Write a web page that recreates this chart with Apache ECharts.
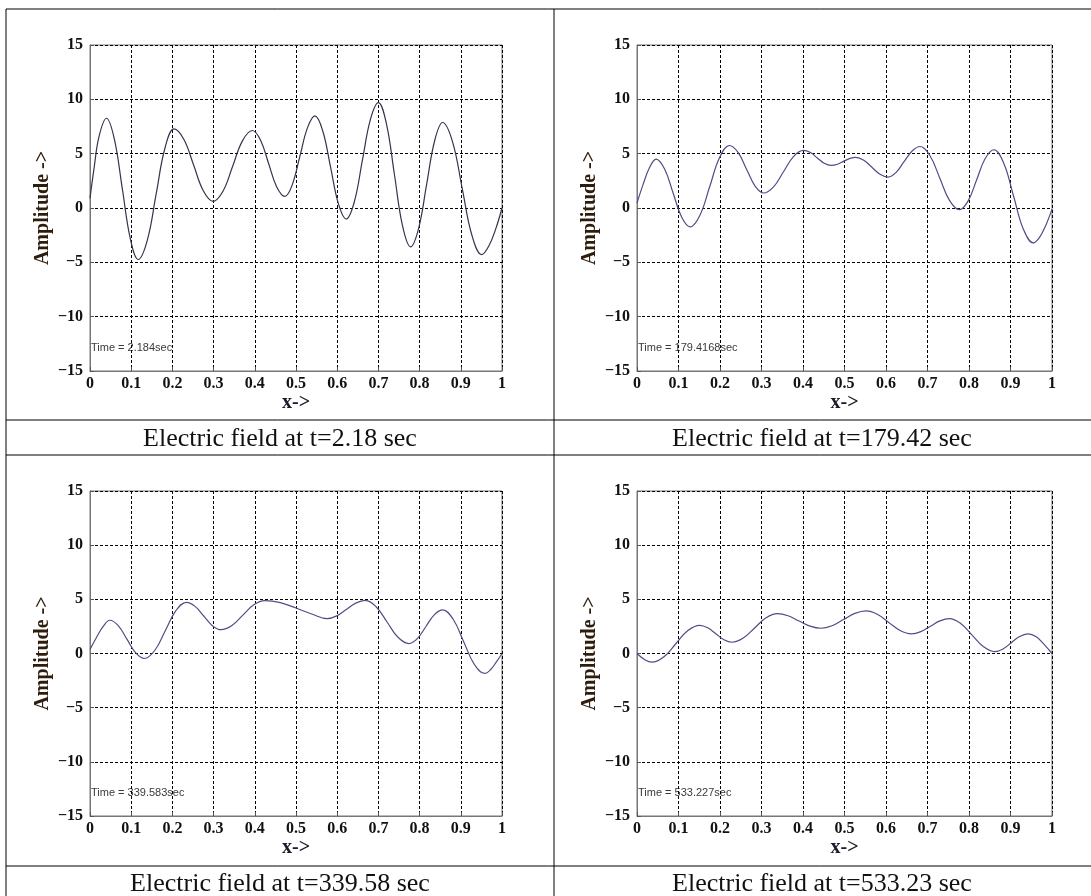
<!DOCTYPE html>
<html>
<head>
<meta charset="utf-8">
<script src="https://cdn.jsdelivr.net/npm/echarts@6/dist/echarts.min.js"></script>
<style>
html,body{margin:0;padding:0;background:#fff;}
#chart{width:1091px;height:896px;}
</style>
</head>
<body>
<div id="chart"></div>
<script>
// ---- Data ----
const xTicks = [0, 0.1, 0.2, 0.3, 0.4, 0.5, 0.6, 0.7, 0.8, 0.9, 1];
const yTicks = [-15, -10, -5, 0, 5, 10, 15];

const captions = [
  'Electric field at t=2.18 sec',
  'Electric field at t=179.42 sec',
  'Electric field at t=339.58 sec',
  'Electric field at t=533.23 sec'
];
const timeLabels = ['Time = 2.184sec', 'Time = 179.4168sec', 'Time = 339.583sec', 'Time = 533.227sec'];

const x1 = [0, 0.010, 0.022, 0.040, 0.059, 0.0785, 0.098, 0.117, 0.139, 0.1605, 0.182, 0.204, 0.228, 0.2515, 0.275, 0.299, 0.323, 0.3465, 0.370, 0.394, 0.414, 0.4335, 0.453, 0.473, 0.491, 0.5095, 0.528, 0.546, 0.565, 0.584, 0.603, 0.622, 0.6415, 0.661, 0.6805, 0.700, 0.7195, 0.739, 0.7585, 0.778, 0.7975, 0.817, 0.8365, 0.856, 0.880, 0.9035, 0.927, 0.951, 0.968, 0.985, 1];
const y1 = [0.9, 3.7, 6.6, 8.26, 6.36, 1.76, -2.84, -4.74, -2.98, 1.27, 5.52, 7.28, 6.30, 3.95, 1.59, 0.61, 1.56, 3.87, 6.18, 7.13, 6.24, 4.1, 1.96, 1.07, 2.15, 4.78, 7.40, 8.48, 7.09, 3.74, 0.38, -1.01, 0.56, 4.35, 8.13, 9.7, 7.75, 3.06, -1.63, -3.58, -1.90, 2.15, 6.19, 7.87, 6.09, 1.79, -2.51, -4.29, -3.5, -1.9, 0];

const x2 = [0, 0.015, 0.030, 0.046, 0.0665, 0.087, 0.1075, 0.128, 0.152, 0.1755, 0.199, 0.223, 0.2435, 0.264, 0.2845, 0.305, 0.329, 0.353, 0.377, 0.401, 0.418, 0.4345, 0.451, 0.468, 0.483, 0.4975, 0.512, 0.527, 0.5465, 0.566, 0.5855, 0.605, 0.624, 0.6435, 0.663, 0.682, 0.706, 0.7295, 0.753, 0.777, 0.798, 0.8185, 0.839, 0.860, 0.884, 0.9075, 0.931, 0.955, 0.970, 0.985, 1];
const y2 = [0.46, 2.2, 3.7, 4.5, 3.59, 1.38, -0.83, -1.74, -0.64, 2.0, 4.65, 5.75, 5.11, 3.57, 2.02, 1.38, 1.95, 3.34, 4.73, 5.3, 5.10, 4.61, 4.12, 3.92, 4.03, 4.29, 4.54, 4.65, 4.39, 3.75, 3.11, 2.85, 3.26, 4.26, 5.25, 5.66, 4.81, 2.76, 0.70, -0.15, 0.66, 2.6, 4.55, 5.36, 4.10, 1.08, -1.95, -3.21, -2.7, -1.6, -0.1];

const x3 = [0, 0.016, 0.032, 0.048, 0.069, 0.090, 0.111, 0.132, 0.1575, 0.183, 0.2085, 0.234, 0.255, 0.276, 0.297, 0.318, 0.3445, 0.371, 0.3975, 0.424, 0.462, 0.500, 0.538, 0.576, 0.599, 0.622, 0.645, 0.668, 0.6945, 0.721, 0.7475, 0.774, 0.7945, 0.815, 0.8355, 0.856, 0.8815, 0.907, 0.9325, 0.958, 0.972, 0.986, 1];
const y3 = [0.37, 1.5, 2.5, 3.07, 2.55, 1.3, 0.06, -0.46, 0.30, 2.13, 3.96, 4.72, 4.35, 3.46, 2.57, 2.2, 2.59, 3.54, 4.49, 4.88, 4.7, 4.2, 3.65, 3.22, 3.47, 4.06, 4.65, 4.9, 4.32, 2.91, 1.50, 0.92, 1.37, 2.47, 3.57, 4.02, 3.16, 1.09, -0.98, -1.84, -1.5, -0.8, 0];

const x4 = [0, 0.018, 0.036, 0.065, 0.0935, 0.122, 0.151, 0.1705, 0.190, 0.2095, 0.229, 0.256, 0.2835, 0.311, 0.338, 0.364, 0.3905, 0.417, 0.443, 0.470, 0.4975, 0.525, 0.552, 0.579, 0.6065, 0.634, 0.661, 0.684, 0.707, 0.730, 0.753, 0.780, 0.8075, 0.835, 0.862, 0.882, 0.902, 0.922, 0.942, 0.962, 0.981, 1];
const y4 = [0, -0.55, -0.8, -0.30, 0.9, 2.10, 2.6, 2.37, 1.82, 1.27, 1.04, 1.43, 2.36, 3.29, 3.68, 3.48, 3.0, 2.53, 2.33, 2.56, 3.13, 3.70, 3.93, 3.62, 2.87, 2.12, 1.81, 2.02, 2.52, 3.01, 3.22, 2.77, 1.7, 0.63, 0.18, 0.42, 1.0, 1.57, 1.81, 1.55, 0.85, 0];

const seriesX = [x1, x2, x3, x4];
const seriesY = [y1, y2, y3, y4];
const lineColors = ['#34344e', '#4e4e86', '#4e4e86', '#4e4e86'];

// ---- Layout ----
const grids = [
  {left: 90, top: 45, width: 412, height: 326},
  {left: 637, top: 45, width: 415, height: 326},
  {left: 90, top: 491, width: 412, height: 325},
  {left: 637, top: 491, width: 415, height: 325}
];
const serif = "'Liberation Serif', 'DejaVu Serif', serif";

const chart = echarts.init(document.getElementById('chart'), null, {renderer: 'canvas'});

const xAxes = [], yAxes = [], series = [], graphics = [];
grids.forEach((g, i) => {
  xAxes.push({
    type: 'value', gridIndex: i, min: xTicks[0], max: xTicks[xTicks.length - 1], interval: 0.1,
    name: 'x->', nameLocation: 'middle', nameGap: 22,
    nameTextStyle: {fontFamily: serif, fontWeight: 'bold', fontSize: 20, color: '#1a1a2a'},
    axisLine: {show: true, onZero: false, lineStyle: {color: '#777', width: 1}},
    axisTick: {show: true, inside: true, length: 4, lineStyle: {color: '#555'}},
    axisLabel: {margin: 5, fontFamily: serif, fontWeight: 'bold', fontSize: 16, color: '#111',
      formatter: v => String(+v.toFixed(1))},
    splitLine: {show: true, lineStyle: {color: '#000', width: 1, type: [3, 2]}}
  });
  yAxes.push({
    type: 'value', gridIndex: i, min: yTicks[0], max: yTicks[yTicks.length - 1], interval: 5,
    name: 'Amplitude ->', nameLocation: 'middle', nameGap: 37,
    nameTextStyle: {fontFamily: serif, fontWeight: 'bold', fontSize: 20, color: '#2e1c0c'},
    axisLine: {show: true, onZero: false, lineStyle: {color: '#777', width: 1}},
    axisTick: {show: true, inside: true, length: 4, lineStyle: {color: '#555'}},
    axisLabel: {margin: 7, fontFamily: serif, fontWeight: 'bold', fontSize: 16, color: '#111',
      formatter: v => String(v).replace('-', '\u2212')},
    splitLine: {show: true, lineStyle: {color: '#000', width: 1, type: [3, 2]}}
  });
  series.push({
    type: 'line', xAxisIndex: i, yAxisIndex: i, smooth: 0.4, showSymbol: false,
    data: seriesX[i].map((x, k) => [x, seriesY[i][k]]),
    lineStyle: {color: lineColors[i], width: 1.2}, animation: false
  });
  graphics.push({
    type: 'text', x: g.left + 1, y: g.top + g.height - 23,
    style: {text: timeLabels[i], font: "11px 'Liberation Sans', Arial, sans-serif", fill: '#3a3a3a',
      textAlign: 'left', textVerticalAlign: 'middle'}
  });
});

// table frame
const lines = [
  [6, 9, 1091, 9],
  [6, 9, 6, 896],
  [554, 9, 554, 896],
  [6, 420, 1091, 420],
  [6, 455, 1091, 455],
  [6, 866, 1091, 866]
];
lines.forEach(l => graphics.push({
  type: 'line', shape: {x1: l[0], y1: l[1], x2: l[2], y2: l[3]},
  style: {stroke: '#000', lineWidth: 1}, silent: true
}));
// captions
const capPos = [[280, 439], [822, 439], [280, 884], [822, 884]];
capPos.forEach((p, i) => graphics.push({
  type: 'text', x: p[0], y: p[1],
  style: {text: captions[i], font: "26px 'Liberation Serif', serif", fill: '#111',
    textAlign: 'center', textVerticalAlign: 'middle'}
}));

chart.setOption({
  animation: false,
  backgroundColor: '#fff',
  grid: grids.map(g => Object.assign({show: true, borderColor: '#777', borderWidth: 1, backgroundColor: '#fff'}, g)),
  xAxis: xAxes,
  yAxis: yAxes,
  series: series,
  graphic: graphics
});
</script>
</body>
</html>
